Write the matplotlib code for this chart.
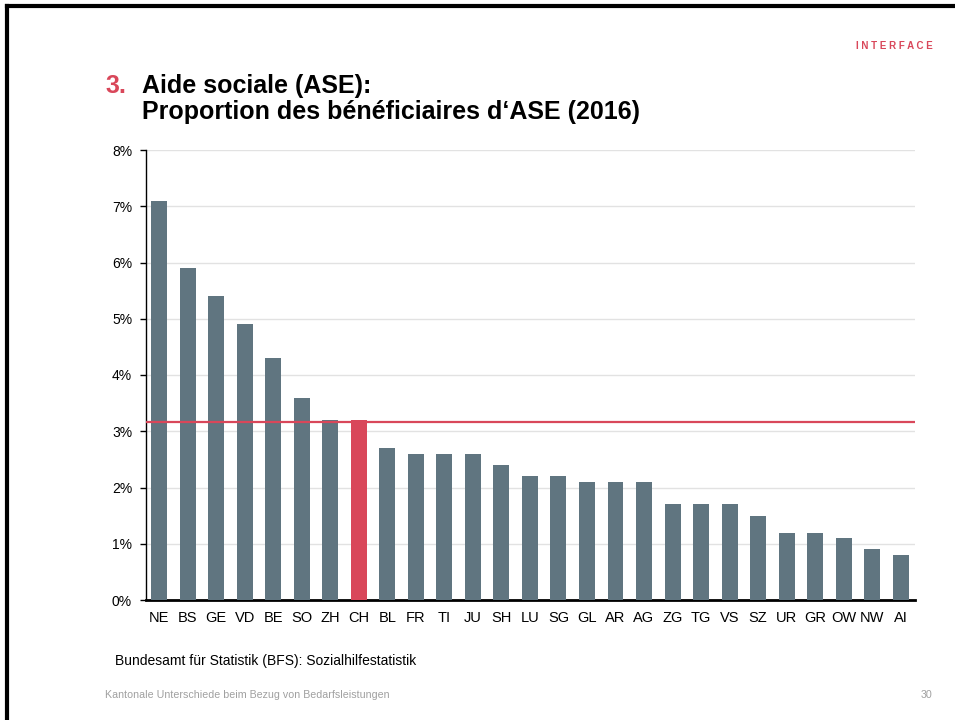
import matplotlib.pyplot as plt
from matplotlib.lines import Line2D

plt.rcParams['font.family'] = ['Liberation Sans', 'DejaVu Sans']

cantons = ["NE", "BS", "GE", "VD", "BE", "SO", "ZH", "CH", "BL", "FR", "TI", "JU", "SH", "LU",
           "SG", "GL", "AR", "AG", "ZG", "TG", "VS", "SZ", "UR", "GR", "OW", "NW", "AI"]
rates = [7.1, 5.9, 5.4, 4.9, 4.3, 3.6, 3.2, 3.2, 2.7, 2.6, 2.6, 2.6, 2.4, 2.2,
         2.2, 2.1, 2.1, 2.1, 1.7, 1.7, 1.7, 1.5, 1.2, 1.2, 1.1, 0.9, 0.8]
ch_mean = 3.17
yticks = [0, 1, 2, 3, 4, 5, 6, 7, 8]

GREY = "#607580"
RED = "#d9475a"

fig = plt.figure(figsize=(9.55, 7.2), dpi=100)
ax = fig.add_axes([146/955, 1-600/720, (915-146)/955, 450/720])

colors = [RED if c == "CH" else GREY for c in cantons]
ax.bar(range(len(cantons)), rates, width=0.56, color=colors, zorder=3)
ax.axhline(ch_mean, color=RED, lw=1.6, zorder=4)

ax.set_xlim(-0.46, len(cantons) - 0.5)
ax.set_ylim(0, 8)
ax.set_yticks(yticks)
ax.set_yticklabels([f"{t}%" for t in yticks], fontsize=10)
ax.set_xticks(range(len(cantons)))
ax.set_xticklabels(cantons, fontsize=10.5)
ax.tick_params(axis='x', length=0, pad=8)
ax.tick_params(axis='y', length=4, width=1, pad=6)
ax.grid(axis='y', color="#e2e2e2", lw=1, zorder=0)
for s in ["top", "right"]:
    ax.spines[s].set_visible(False)
ax.spines["left"].set_linewidth(1)
ax.spines["bottom"].set_linewidth(2)

# slide frame (top and left edges)
fig.add_artist(Line2D([7/955, 1], [1-6/720, 1-6/720], color="black", lw=3, transform=fig.transFigure))
fig.add_artist(Line2D([7/955, 7/955], [0, 1-6/720], color="black", lw=3, transform=fig.transFigure))

fig.text(933/955, 1-46/720, "I N T E R F A C E", color=RED, fontsize=7, fontweight="bold",
         ha="right", va="center")
fig.text(105/955, 1-93/720, "3.", color=RED, fontsize=18, fontweight="bold", va="baseline")
fig.text(142/955, 1-93/720, "Aide sociale (ASE):", fontsize=18, fontweight="bold", va="baseline")
fig.text(142/955, 1-119/720, "Proportion des bénéficiaires d\u2018ASE (2016)", fontsize=18,
         fontweight="bold", va="baseline")

fig.text(115/955, 1-661/720, "Bundesamt für Statistik (BFS): Sozialhilfestatistik", fontsize=10,
         va="center")
fig.text(105/955, 1-695/720, "Kantonale Unterschiede beim Bezug von Bedarfsleistungen", fontsize=7.7,
         color="#a0a0a0", va="center")
fig.text(932/955, 1-695/720, "30", fontsize=7.7, color="#a0a0a0", va="center", ha="right")

fig.savefig("out.png", dpi=100)
